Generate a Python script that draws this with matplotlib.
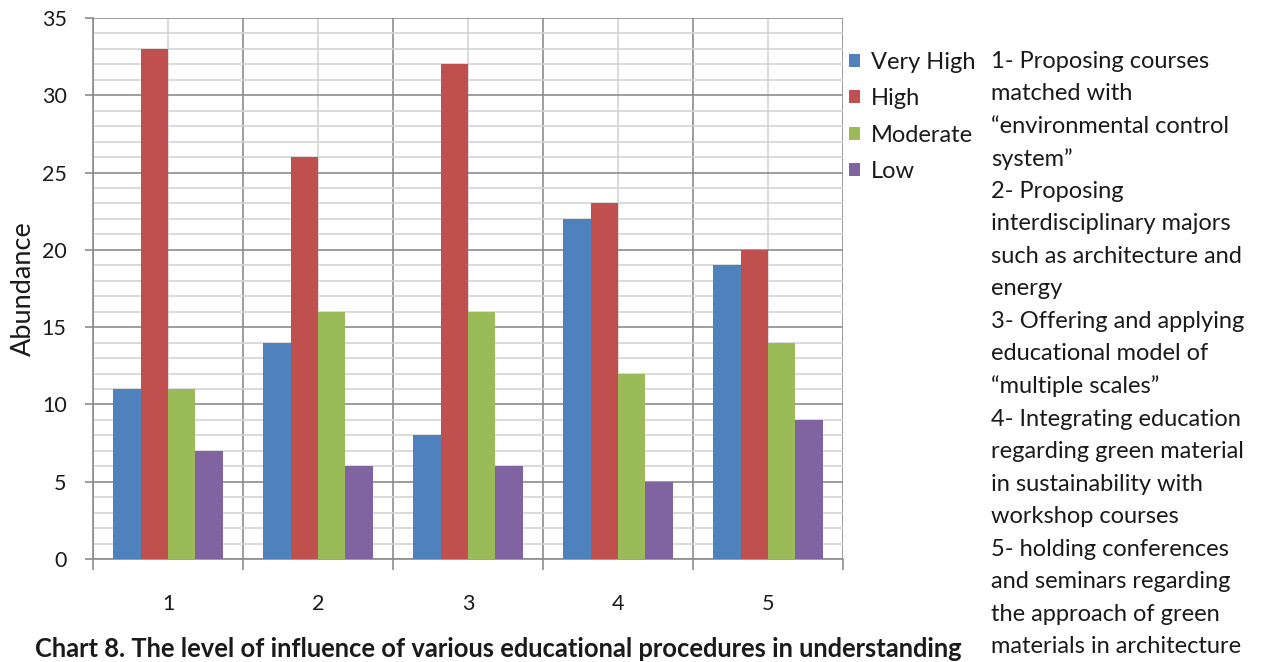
import matplotlib.pyplot as plt
from matplotlib.patches import Patch
import numpy as np

plt.rcParams["font.family"] = ["Lato", "DejaVu Sans"]

categories = ["1", "2", "3", "4", "5"]
levels = ["Very High", "High", "Moderate", "Low"]
very_high = [11, 14, 8, 22, 19]
high = [33, 26, 32, 23, 20]
moderate = [11, 16, 16, 12, 14]
low = [7, 6, 6, 5, 9]
series = [very_high, high, moderate, low]
colors = ["#4F81BD", "#C0504D", "#9BBB59", "#8064A2"]

notes = [
    "1- Proposing courses",
    "matched with",
    "\u201cenvironmental control",
    "system\u201d",
    "2- Proposing",
    "interdisciplinary majors",
    "such as architecture and",
    "energy",
    "3- Offering and applying",
    "educational model of",
    "\u201cmultiple scales\u201d",
    "4- Integrating education",
    "regarding green material",
    "in sustainability with",
    "workshop courses",
    "5- holding conferences",
    "and seminars regarding",
    "the approach of green",
    "materials in architecture",
]
caption = ("Chart 8. The level of influence of various educational "
           "procedures in understanding")

W, H = 1270, 662
fig = plt.figure(figsize=(W / 100, H / 100), dpi=100)
ax = fig.add_axes([93 / W, 1 - 559 / H, 750 / W, 541 / H])

x = np.arange(1, len(categories) + 1)
bw = 0.182
for i, vals in enumerate(series):
    ax.bar(x + (i - 1.5) * bw, vals, width=bw, color=colors[i],
           label=levels[i], zorder=3)

ax.set_xlim(0.5, 5.5)
ax.set_ylim(0, 35)

# y grid: every 1 light, every 5 darker
ax.set_yticks(range(0, 36, 5))
ax.set_yticks(range(0, 36, 1), minor=True)
ax.grid(axis="y", which="minor", color="#d4d4d4", lw=1.2, zorder=0)
ax.grid(axis="y", which="major", color="#8c8c8c", lw=1.2, zorder=1)

# x: labels at centres, ticks and dark lines at group boundaries
ax.set_xticks(x)
ax.set_xticklabels(categories)
ax.set_xticks(np.arange(0.5, 6, 1), minor=True)
ax.grid(axis="x", which="major", color="#d4d4d4", lw=1.2, zorder=0)
ax.grid(axis="x", which="minor", color="#8c8c8c", lw=1.2, zorder=1)

ax.tick_params(axis="x", which="major", length=0, pad=25, labelsize=15.5,
               labelcolor="#1a1a1a")
ax.tick_params(axis="x", which="minor", length=8, width=1.2,
               color="#8c8c8c")
ax.tick_params(axis="y", which="major", length=6, width=1.2,
               color="#8c8c8c", labelsize=15.5, pad=13, labelcolor="#1a1a1a")
ax.tick_params(axis="y", which="minor", length=0)

for s in ["top", "right"]:
    ax.spines[s].set_visible(False)
for s in ["left", "bottom"]:
    ax.spines[s].set_color("#8c8c8c")
    ax.spines[s].set_linewidth(1.2)

ax.set_ylabel("Abundance", fontsize=19.5, color="#1a1a1a", labelpad=4)

handles = [Patch(facecolor=c, label=l) for c, l in zip(colors, levels)]
fig.legend(handles=handles, loc="upper left",
           bbox_to_anchor=(849 / W, 1 - 52 / H), frameon=False,
           fontsize=17, handlelength=0.47, handleheight=0.47,
           handletextpad=0.45, labelspacing=0.65, borderaxespad=0,
           borderpad=0, labelcolor="#1a1a1a")

for i, line in enumerate(notes):
    fig.text(991 / W, 1 - (61 + i * 32.55) / H, line, fontsize=17,
             color="#1a1a1a", va="center", ha="left")

fig.text(35 / W, 1 - 637 / H, caption, fontsize=18.4, fontweight="bold",
         color="#1a1a1a", va="top", ha="left")

fig.savefig("out.png", dpi=100)
